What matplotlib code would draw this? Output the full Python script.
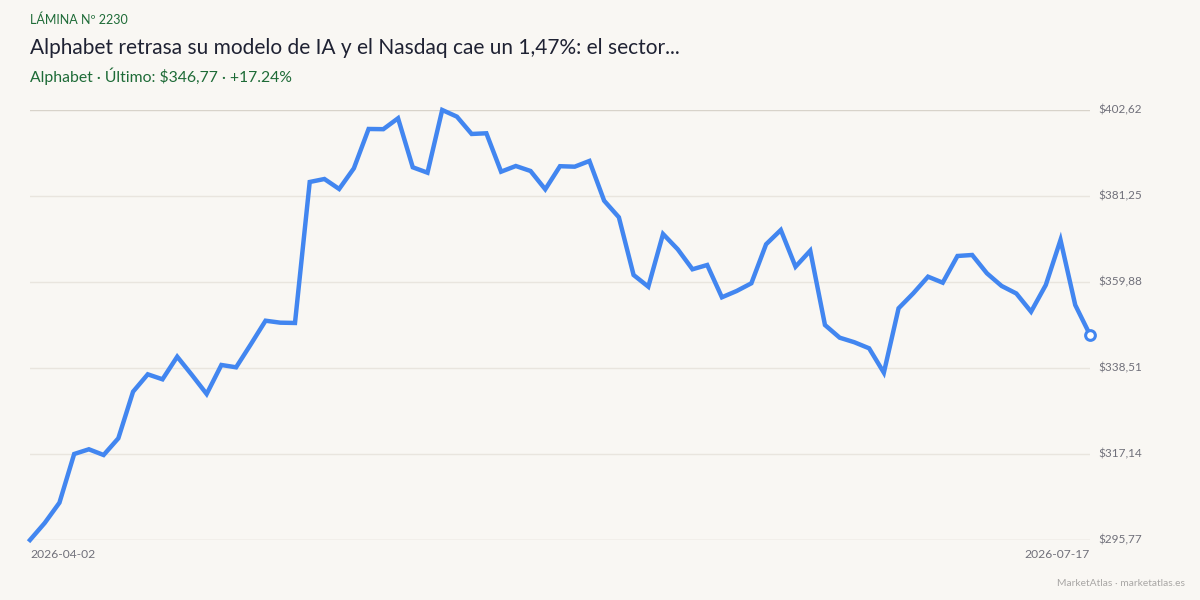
import numpy as np
import pandas as pd
import matplotlib.pyplot as plt

plt.rcParams['font.family'] = ['Lato', 'DejaVu Sans']

# séances NYSE (jours fériés exclus)
feries = ["2026-04-03", "2026-05-25", "2026-06-19", "2026-07-03"]
dates = pd.bdate_range("2026-04-02", "2026-07-17", freq="C", holidays=feries)

cours = [
    295.77, 300.00, 305.04, 317.14, 318.31, 316.89, 321.04, 332.62, 336.94, 335.70,
    341.32, 336.77, 332.05, 339.26, 338.68, 344.40, 350.26, 349.77, 349.70, 384.73,
    385.47, 382.99, 388.13, 397.90, 397.85, 400.56, 388.38, 387.04, 402.62, 400.96,
    396.66, 396.83, 387.29, 388.70, 387.46, 382.91, 388.65, 388.53, 389.95, 380.08,
    375.96, 361.62, 358.71, 371.81, 368.00, 363.04, 364.10, 356.08, 357.64, 359.56,
    369.25, 372.80, 363.68, 367.66, 349.19, 346.04, 344.90, 343.40, 337.34, 353.34,
    357.07, 361.20, 359.71, 366.34, 366.59, 362.04, 358.89, 357.02, 352.50, 359.13,
    370.32, 354.16, 346.77,
]

fond = "#f9f7f3"
bleu = "#4286f0"
vert = "#1e6b37"
gris = "#70707a"

x = np.arange(len(cours))
ymin, ymax = min(cours), max(cours)
ticks_y = np.linspace(ymin, ymax, 6)

fig = plt.figure(figsize=(12, 6), dpi=100, facecolor=fond)
ax = fig.add_axes([0.025, 0.1, 0.8833, 0.7167])
ax.set_facecolor(fond)

for i, t in enumerate(ticks_y):
    c = "#d8d3ca" if i in (0, len(ticks_y) - 1) else "#e9e5de"
    ax.axhline(t, color=c, lw=1, zorder=1)

ax.plot(x, cours, color=bleu, lw=3.2, solid_joinstyle="miter", clip_on=False, zorder=3)
ax.plot(x[-1], cours[-1], "o", ms=7, mfc="white", mec=bleu, mew=2.2, clip_on=False, zorder=4)

ax.set_xlim(0, len(cours) - 1)
ax.set_ylim(ymin, ymax)
for s in ax.spines.values():
    s.set_visible(False)
ax.set_xticks([])
ax.set_yticks([])

for t in ticks_y:
    lab = f"${t:.2f}".replace(".", ",")
    ax.text(1.008, t, lab, transform=ax.get_yaxis_transform(), ha="left", va="center",
            fontsize=8.5, color=gris)

ax.text(0, -0.022, dates[0].strftime("%Y-%m-%d"), transform=ax.transAxes,
        ha="left", va="top", fontsize=8.7, color=gris)
ax.text(1, -0.022, dates[-1].strftime("%Y-%m-%d"), transform=ax.transAxes,
        ha="right", va="top", fontsize=8.7, color=gris)

variation = (cours[-1] / cours[0] - 1) * 100
fig.text(30 / 1200, 1 - 20 / 600, "LÁMINA Nº 2230", ha="left", va="center",
         fontsize=9, color=vert)
fig.text(30 / 1200, 1 - 48 / 600,
         "Alphabet retrasa su modelo de IA y el Nasdaq cae un 1,47%: el sector...",
         ha="left", va="center", fontsize=15, color="#1f2233")
fig.text(30 / 1200, 1 - 76 / 600,
         f"Alphabet · Último: ${cours[-1]:.2f}".replace(".", ",") + f" · +{variation:.2f}%",
         ha="left", va="center", fontsize=11.3, color=vert)
fig.text(1185 / 1200, 1 - 583 / 600, "MarketAtlas · marketatlas.es", ha="right",
         va="center", fontsize=7.4, color="#a9a7a5")

fig.savefig("out.png", dpi=100, facecolor=fond)
